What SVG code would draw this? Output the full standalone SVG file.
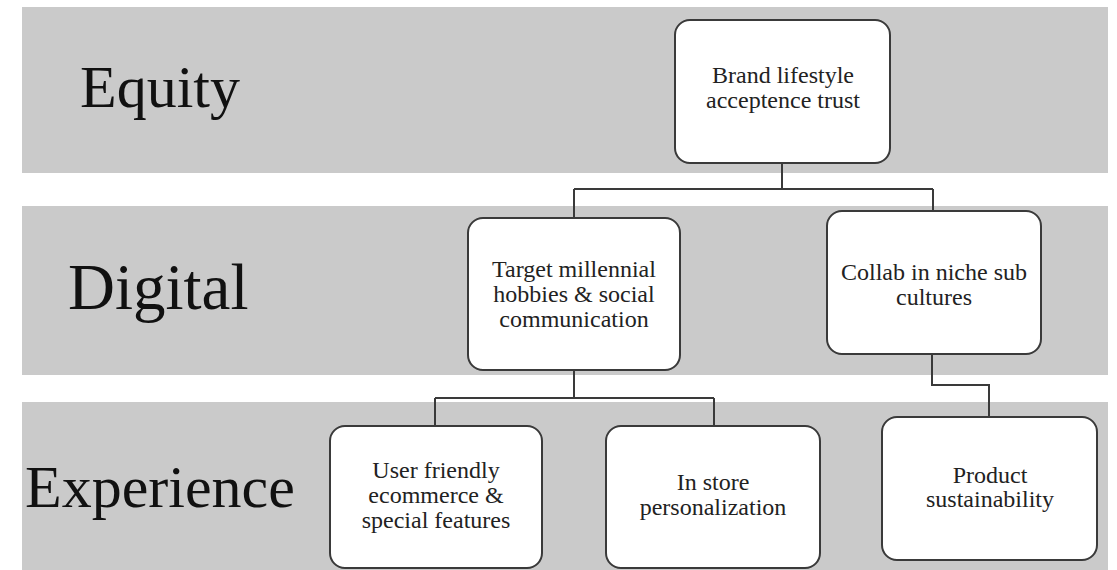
<svg xmlns="http://www.w3.org/2000/svg" width="1117" height="570" viewBox="0 0 1117 570">
<style>
.band{fill:#cacaca;}
.box{fill:#ffffff;stroke:#3a3a3a;stroke-width:2;}
.lbl{font-family:'Liberation Serif',serif;fill:#111;}
.conn{fill:none;stroke:#3a3a3a;stroke-width:2;}
</style>
<rect width="1117" height="570" fill="#ffffff"/>
<g id="bands">
<rect class="band" x="22" y="7" width="1086" height="166"/>
<rect class="band" x="22" y="206" width="1086" height="169"/>
<rect class="band" x="22" y="402" width="1086" height="168"/>
<text class="lbl" x="80" y="107" font-size="60">Equity</text>
<text class="lbl" x="68" y="309" font-size="65">Digital</text>
<text class="lbl" x="25" y="507" font-size="60">Experience</text>
</g>
<g id="connectors">
<path class="conn" d="M782,163 V189 M574,189 H933 M574,189 V218 M933,189 V211"/>
<path class="conn" d="M574,370 V398 M435,398 H714 M435,398 V426 M714,398 V426"/>
<path class="conn" d="M932,354 V385 H989 V417"/>
</g>
<g font-family="Liberation Serif, serif" font-size="24" fill="#222" text-anchor="middle">
<g id="n1">
<rect class="box" x="675" y="20" width="215" height="143" rx="15"/>
<text x="783" y="83">Brand lifestyle</text>
<text x="783" y="108">acceptence trust</text>
</g>
<g id="n2">
<rect class="box" x="468" y="218" width="212" height="152" rx="15"/>
<text x="574" y="277">Target millennial</text>
<text x="574" y="302">hobbies &amp; social</text>
<text x="574" y="327">communication</text>
</g>
<g id="n3">
<rect class="box" x="827" y="211" width="214" height="143" rx="15"/>
<text x="934" y="280">Collab in niche sub</text>
<text x="934" y="305">cultures</text>
</g>
<g id="n4">
<rect class="box" x="330" y="426" width="212" height="142" rx="15"/>
<text x="436" y="478">User friendly</text>
<text x="436" y="503">ecommerce &amp;</text>
<text x="436" y="528">special features</text>
</g>
<g id="n5">
<rect class="box" x="606" y="426" width="214" height="142" rx="15"/>
<text x="713" y="490">In store</text>
<text x="713" y="515">personalization</text>
</g>
<g id="n6">
<rect class="box" x="882" y="417" width="215" height="143" rx="15"/>
<text x="990" y="483">Product</text>
<text x="990" y="507">sustainability</text>
</g>
</g>
</svg>
